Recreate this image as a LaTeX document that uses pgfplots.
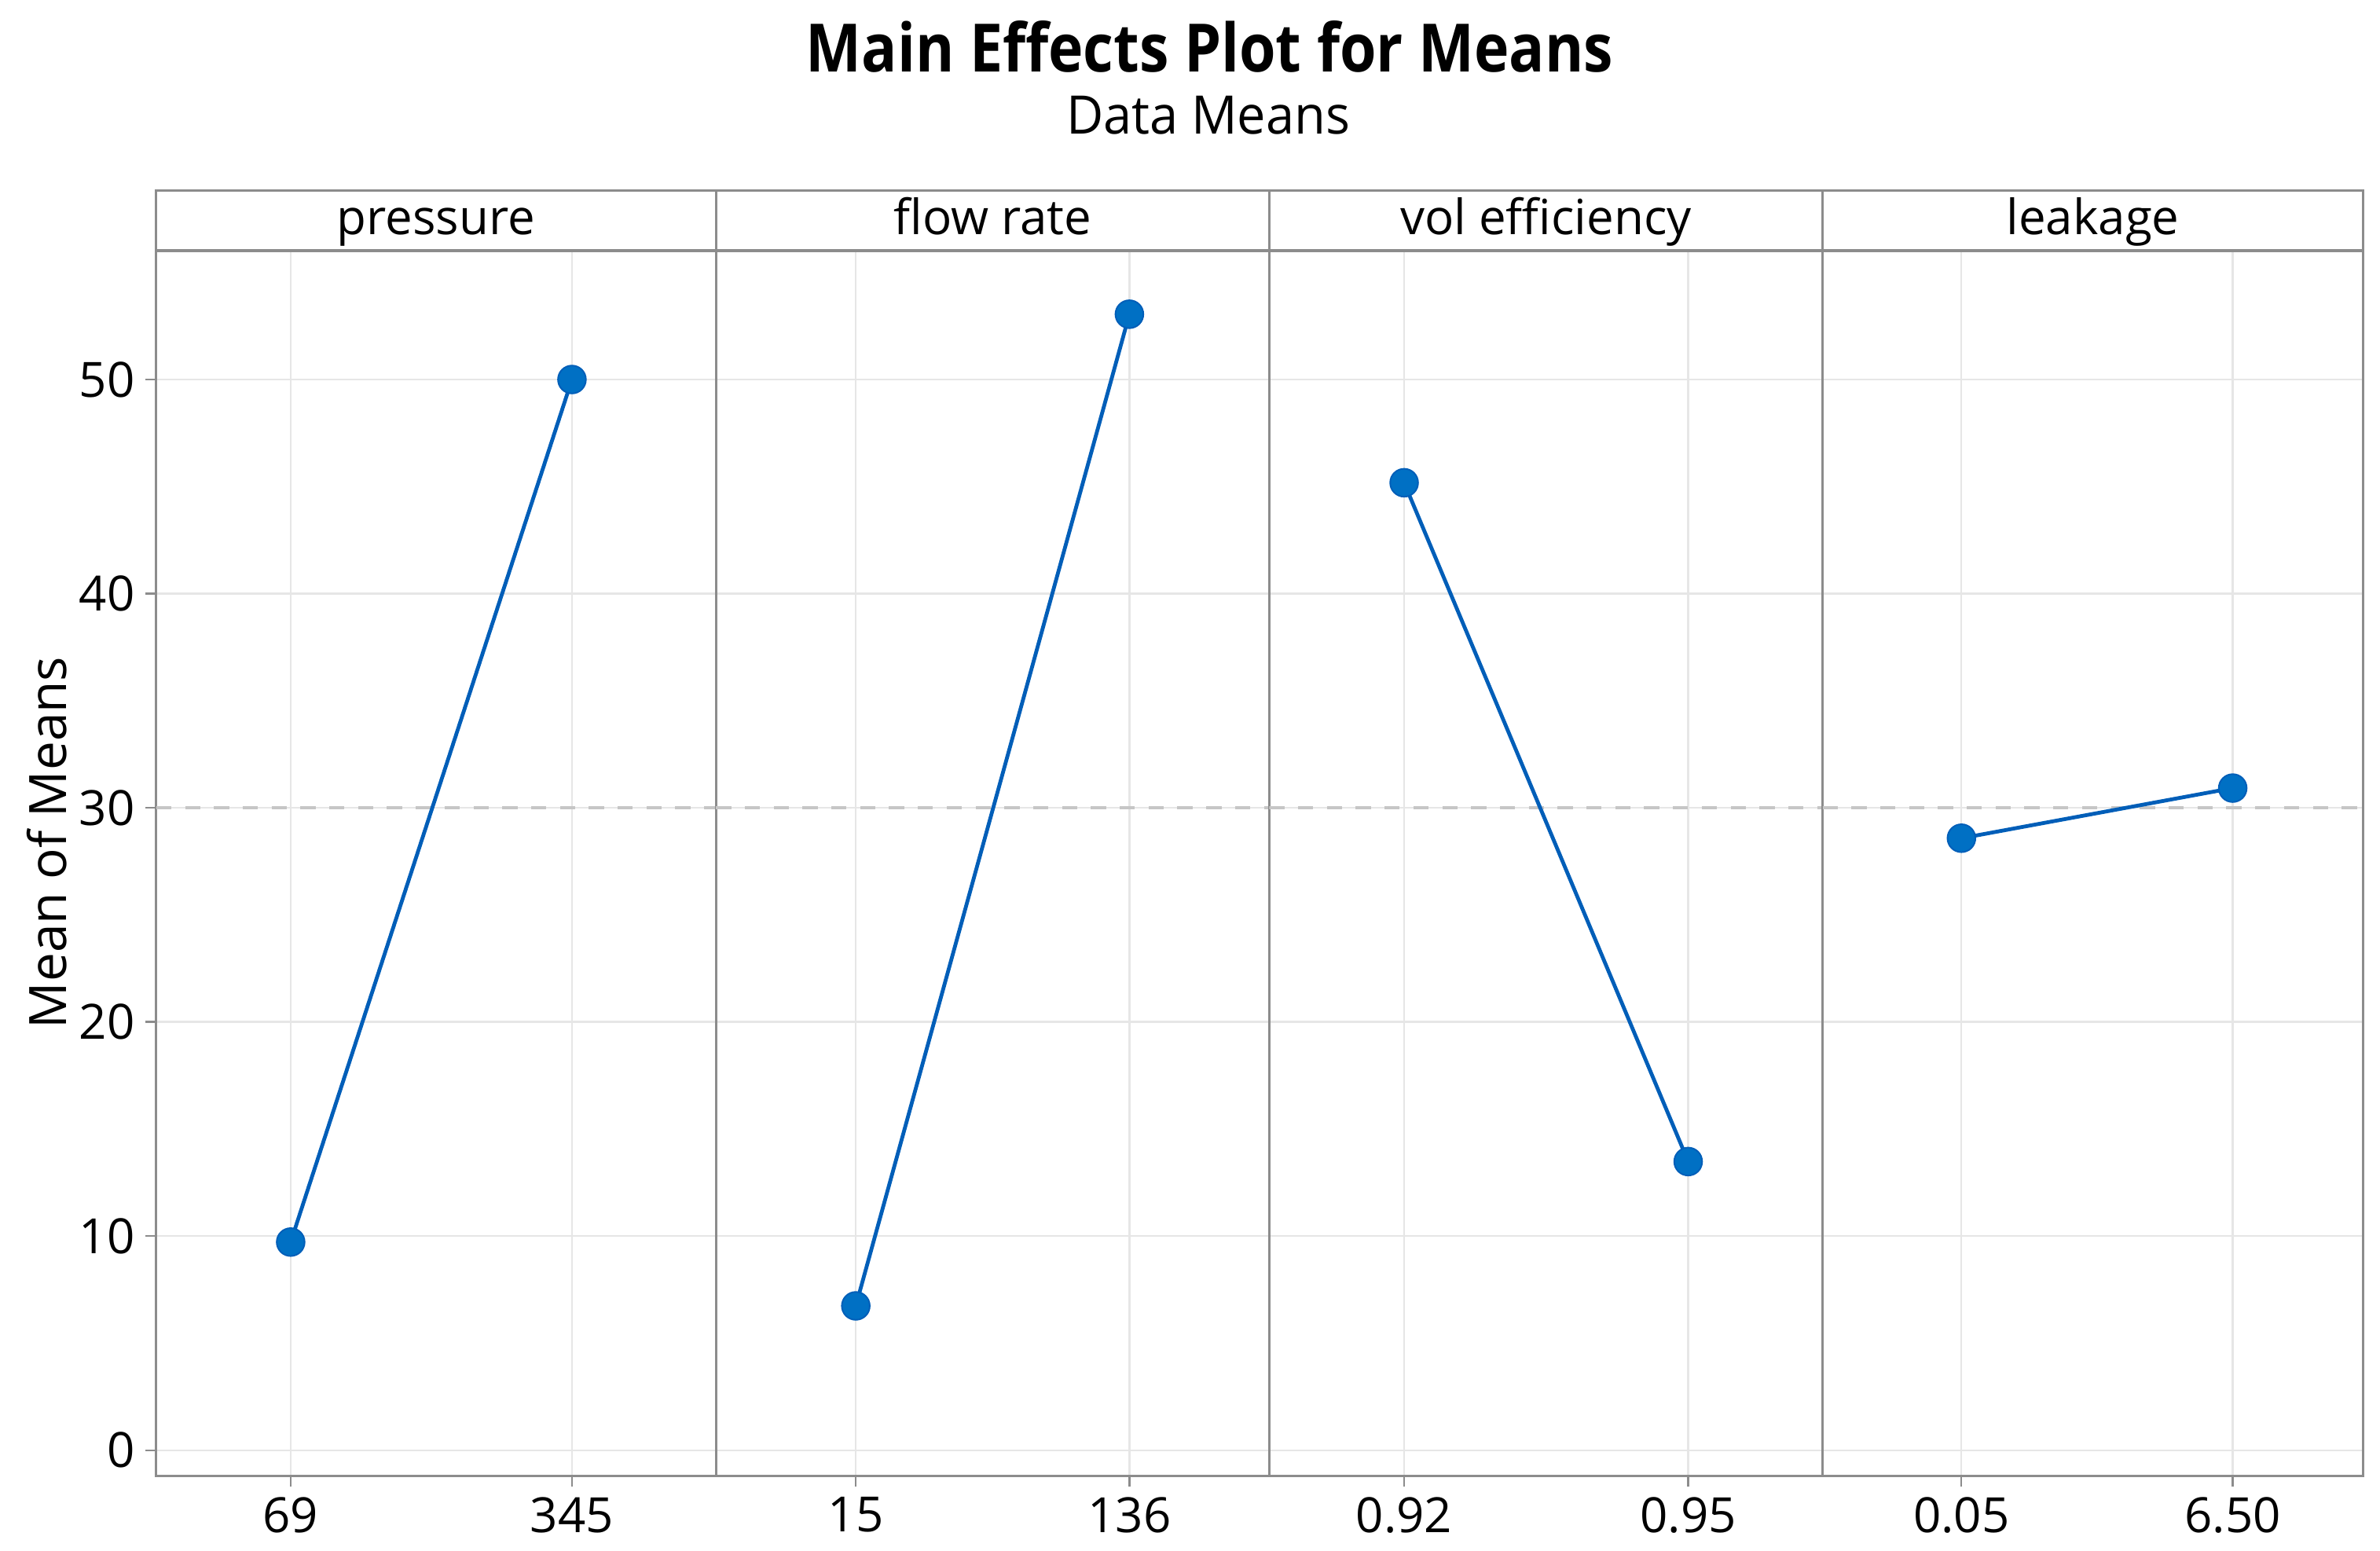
\documentclass[border=0pt]{standalone}
\usepackage{fontspec}
\setmainfont{Open Sans}
\newfontfamily\titlefont{Open Sans}[FakeStretch=0.885]
\newfontfamily\subfont{Open Sans}[FakeStretch=0.96]
\usepackage{pgfplots}
\pgfplotsset{compat=1.18}

\definecolor{framegray}{HTML}{8C8C8C}
\definecolor{gridgray}{HTML}{E6E6E6}
\definecolor{meangray}{HTML}{C6C6C6}
\definecolor{mline}{RGB}{0,94,184}
\definecolor{mfill}{RGB}{0,112,196}

\pgfplotsset{
  mep/.style={
    scale only axis, height=403.5pt,
    anchor=south west,
    ymin=-1.2, ymax=56,
    xtick={0,1}, ytick={0,10,20,30,40,50},
    grid=major,
    major grid style={gridgray, line width=0.6pt},
    axis line style={framegray, line width=0.75pt},
    tick style={framegray, line width=0.6pt},
    tick align=outside, major tick length=3.5pt,
    xtick pos=bottom, ytick pos=left,
    /pgf/number format/assume math mode=true,
    ticklabel style={font=\fontsize{16}{16}\selectfont},
    every axis title shift=0pt,
    title style={at={(0.5,1)}, anchor=south, yshift=0pt, draw=framegray, line width=0.75pt,
      minimum width=\pgfkeysvalueof{/pgfplots/width}, inner sep=0pt,
      text height=14.5pt, text depth=5pt,
      font=\fontsize{16}{16}\selectfont},
  },
  inner/.style={yticklabels={}, ytick style={draw=none}},
  meanline/.style={meangray, line width=1.1pt, dash pattern=on 5pt off 4.5pt, forget plot},
  effect/.style={mline, line width=1.25pt, mark=*, mark size=4.6pt,
    mark options={fill=mfill, draw=mline, line width=0.5pt}},
}

\begin{document}
\begin{tikzpicture}
\path (0,0) rectangle (784pt,510.7pt);

\node[anchor=base, font=\titlefont\bfseries\fontsize{22}{22}\selectfont] at (398.5pt,487pt) {Main Effects Plot for Means};
\node[anchor=base, font=\subfont\fontsize{17.5}{17.5}\selectfont] at (398pt,466.5pt) {Data Means};

\begin{axis}[mep, width=184.39pt, at={(51.46pt,24.5pt)}, title={pressure},
  xmin=-0.478, xmax=1.512,
  xticklabels={69,345},
  ylabel={Mean of Means},
  ylabel style={at={(axis description cs:-0.195,0.517)}, anchor=center, font=\fontsize{17}{17}\selectfont}]
  \addplot[meanline] coordinates {(-0.478,30.0) (1.512,30.0)};
  \addplot[effect] coordinates {(0,9.72) (1,50.0)};
\end{axis}

\begin{axis}[mep, inner, width=182.24pt, at={(235.85pt,24.5pt)}, title={flow rate},
  xmin=-0.511, xmax=1.511,
  xticklabels={15,136}]
  \addplot[meanline] coordinates {(-0.511,30.0) (1.511,30.0)};
  \addplot[effect] coordinates {(0,6.74) (1,53.05)};
\end{axis}

\begin{axis}[mep, inner, width=182.27pt, at={(418.09pt,24.5pt)}, title={vol efficiency},
  xmin=-0.475, xmax=1.473,
  xticklabels={0.92,0.95}]
  \addplot[meanline] coordinates {(-0.475,30.0) (1.473,30.0)};
  \addplot[effect] coordinates {(0,45.18) (1,13.48)};
\end{axis}

\begin{axis}[mep, inner, width=178.10pt, at={(600.36pt,24.5pt)}, title={leakage},
  xmin=-0.512, xmax=1.481,
  xticklabels={0.05,6.50}]
  \addplot[meanline] coordinates {(-0.512,30.0) (1.481,30.0)};
  \addplot[effect] coordinates {(0,28.58) (1,30.92)};
\end{axis}
\end{tikzpicture}
\end{document}
